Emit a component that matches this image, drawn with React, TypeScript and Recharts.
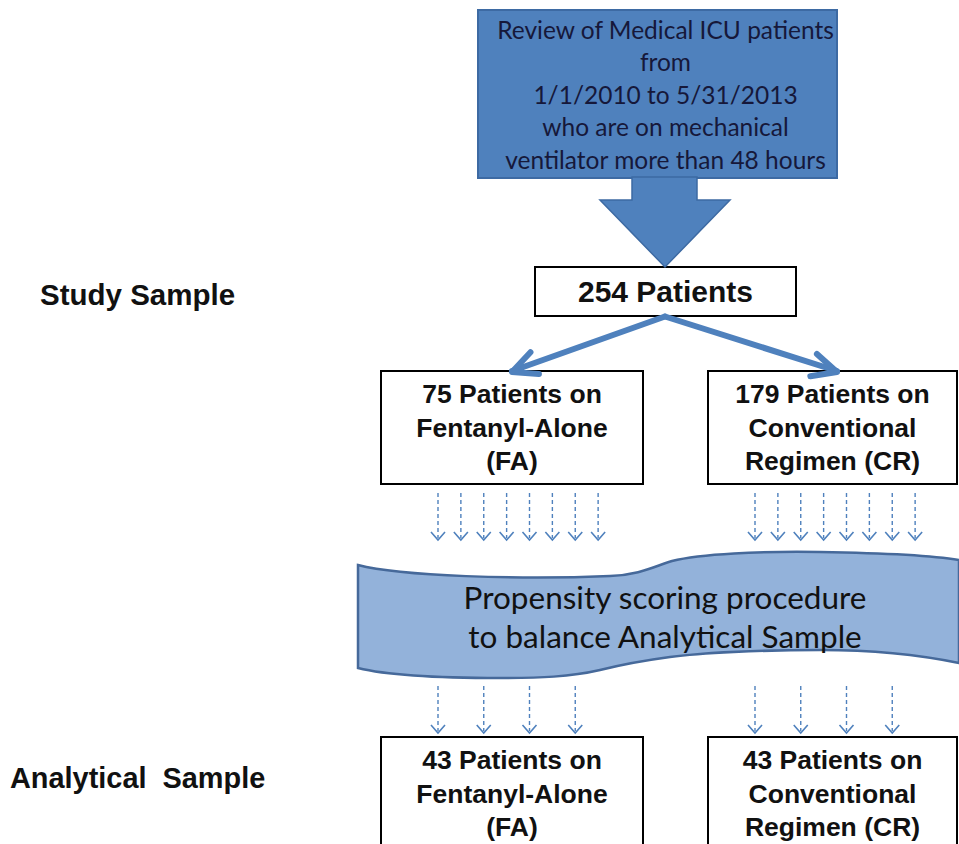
import { ScatterChart, Scatter, XAxis, YAxis } from 'recharts'

const sourceLines = ['Review of Medical ICU patients', 'from', '1/1/2010 to 5/31/2013', 'who are on mechanical', 'ventilator more than 48 hours']
const stageNames = ['Study Sample', 'Analytical  Sample']
const totalPatients = 254
const groupNames = [['Fentanyl-Alone', '(FA)'], ['Conventional', 'Regimen (CR)']]
const studyCounts = [75, 179]
const analyticalCounts = [43, 43]
const procedureLines = ['Propensity scoring procedure', 'to balance Analytical Sample']
const arrowsIntoProcedure = [8, 8]
const arrowsOutOfProcedure = [4, 4]

// layout (chart units == pixels, axes are hidden)
const W = 959
const H = 844
const BLUE = '#4f81bd'
const ARIAL = '"Liberation Sans", Arial, sans-serif'
const CALIBRI = 'Lato, "Open Sans", sans-serif'
const stageX = [40, 10]
const stageY = [294, 778]
const stageSize = [29.5, 28.9]
const groupX = [512, 832.5]
const groupW = [262, 249]
const fanStart = [438, 755]
const fanSpan = 183
const studyRowY = 427.5
const analyticalRowY = 793.5
const rowH = 113
const totalY = 291.5
const branchTipY = 372
const branchTipX = [512, 837]

const stageData = stageNames.map((name, i) => ({ x: stageX[i], y: stageY[i], name, size: stageSize[i] }))
const sourceData = [{ x: 657.5, y: 94, lines: sourceLines }]
const bigArrowData = [{ x: 665, y: 267 }]
const totalData = [{ x: 665.5, y: totalY, w: 261, h: 49, lines: [`${totalPatients} Patients`], size: 30 }]
const studyData = studyCounts.map((c, i) => ({
  x: groupX[i], y: studyRowY, w: groupW[i], h: rowH, lines: [`${c} Patients on`, ...groupNames[i]], size: 26.5,
}))
const analyticalData = analyticalCounts.map((c, i) => ({
  x: groupX[i], y: analyticalRowY, w: groupW[i], h: rowH, lines: [`${c} Patients on`, ...groupNames[i]], size: 26.5,
}))
const branchData = studyCounts.map((_, i) => ({ x: branchTipX[i], y: branchTipY, fromX: 665, fromY: 316.5 }))
const fan = (counts: number[], tipY: number) =>
  counts.flatMap((n, i) => Array.from({ length: n }, (_, k) => ({ x: fanStart[i] + (k * fanSpan) / n, y: tipY })))
const fanInData = fan(arrowsIntoProcedure, 540)
const fanOutData = fan(arrowsOutOfProcedure, 733)
const bannerData = [{ x: 658.5, y: 615, lines: procedureLines }]

const StageLabel = (p: any) => (
  <text x={p.cx} y={p.cy} dominantBaseline="central" fontFamily={ARIAL} fontWeight="bold"
    fontSize={p.payload.size} fill="#111" style={{ whiteSpace: 'pre' }}>
    {p.payload.name}
  </text>
)

const SourceBox = (p: any) => {
  const { cx, cy, payload } = p
  return (
    <g>
      <rect x={cx - 179.5} y={cy - 84} width={359} height={168} fill={BLUE} stroke="#3d6aa3" strokeWidth={2} />
      {payload.lines.map((l: string, i: number) => (
        <text key={i} x={cx + 8} y={cy - 65 + i * 32.5} textAnchor="middle" dominantBaseline="central"
          fontFamily={CALIBRI} fontSize={24.5} fill="#16183a">{l}</text>
      ))}
    </g>
  )
}

const BigArrow = (p: any) => {
  const { cx, cy } = p
  const pts = [[-33, -90], [32, -90], [32, -67], [65, -67], [0, 0], [-65, -67], [-33, -67]]
  return <polygon points={pts.map(([a, b]) => `${cx + a},${cy + b}`).join(' ')} fill={BLUE} stroke="#3d6aa3" strokeWidth={1.5} />
}

const NodeBox = (p: any) => {
  const { cx, cy, payload } = p
  const { w, h, lines, size } = payload
  const lh = 33.5
  const top = cy - ((lines.length - 1) * lh) / 2
  return (
    <g>
      <rect x={cx - w / 2} y={cy - h / 2} width={w} height={h} fill="#fff" stroke="#000" strokeWidth={2} />
      {lines.map((l: string, i: number) => (
        <text key={i} x={cx} y={top + i * lh} textAnchor="middle" dominantBaseline="central"
          fontFamily={ARIAL} fontWeight="bold" fontSize={size} fill="#111">{l}</text>
      ))}
    </g>
  )
}

const BranchArrow = (p: any) => {
  const { cx, cy, payload } = p
  const sx = cx + (payload.fromX - payload.x)
  const sy = cy + (payload.fromY - payload.y)
  const ang = Math.atan2(sy - cy, sx - cx)
  const arm = (d: number) => `${cx + 27 * Math.cos(ang + d)},${cy + 27 * Math.sin(ang + d)}`
  return (
    <g stroke={BLUE} strokeWidth={6} fill="none" strokeLinecap="round" strokeLinejoin="round">
      <line x1={sx} y1={sy} x2={cx} y2={cy - 1} />
      <polyline points={`${arm(-0.47)} ${cx},${cy} ${arm(0.42)}`} />
    </g>
  )
}

const DashedArrow = (p: any) => {
  const { cx, cy } = p
  return (
    <g stroke={BLUE} strokeWidth={1.4} fill="none">
      <line x1={cx} y1={cy - 47} x2={cx} y2={cy - 2} strokeDasharray="4 3" />
      <polyline points={`${cx - 7},${cy - 8} ${cx},${cy} ${cx + 7},${cy - 8}`} strokeWidth={1.6} />
    </g>
  )
}

const Banner = (p: any) => {
  const { cx, cy, payload } = p
  const d =
    'M-300.5,-50 C-258.5,-39 -138.5,-35 -48.5,-39 C-18.5,-40 -3.5,-49 13.5,-54 C41.5,-61 101.5,-64 161.5,-63 ' +
    'C221.5,-62 271.5,-60 300.5,-55 L300.5,48 C271.5,42 221.5,35 161.5,35 C101.5,35 41.5,38 11.5,42 ' +
    'C-18.5,46 -38.5,50 -58.5,55 C-88.5,62 -118.5,63 -158.5,63 C-218.5,63 -268.5,61 -300.5,53 Z'
  return (
    <g transform={`translate(${cx},${cy})`}>
      <path d={d} fill="#93b2da" stroke="#46699a" strokeWidth={2.5} />
      {payload.lines.map((l: string, i: number) => (
        <text key={i} x={6.5} y={-18 + i * 39} textAnchor="middle" dominantBaseline="central"
          fontFamily={CALIBRI} fontSize={31.5} fill="#111">{l}</text>
      ))}
    </g>
  )
}

export default function App() {
  return (
    <div style={{ width: W, height: H, background: '#fff' }}>
      <style>{'body{margin:0}'}</style>
      <ScatterChart width={W} height={H} margin={{ top: 0, right: 0, bottom: 0, left: 0 }}>
        <XAxis type="number" dataKey="x" domain={[0, W]} hide />
        <YAxis type="number" dataKey="y" domain={[0, H]} reversed hide />
        <Scatter data={stageData} shape={StageLabel} isAnimationActive={false} />
        <Scatter data={sourceData} shape={SourceBox} isAnimationActive={false} />
        <Scatter data={totalData} shape={NodeBox} isAnimationActive={false} />
        <Scatter data={bigArrowData} shape={BigArrow} isAnimationActive={false} />
        <Scatter data={studyData} shape={NodeBox} isAnimationActive={false} />
        <Scatter data={branchData} shape={BranchArrow} isAnimationActive={false} />
        <Scatter data={fanInData} shape={DashedArrow} isAnimationActive={false} />
        <Scatter data={bannerData} shape={Banner} isAnimationActive={false} />
        <Scatter data={fanOutData} shape={DashedArrow} isAnimationActive={false} />
        <Scatter data={analyticalData} shape={NodeBox} isAnimationActive={false} />
      </ScatterChart>
    </div>
  )
}
